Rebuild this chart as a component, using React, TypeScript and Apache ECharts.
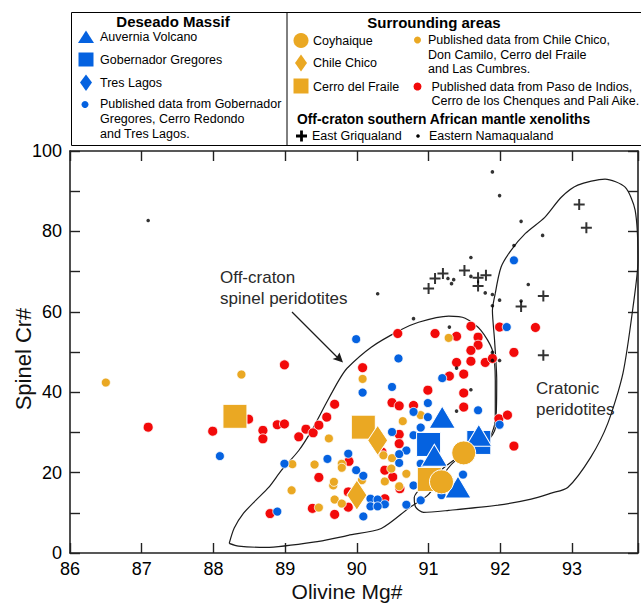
import React, { useEffect, useRef } from "react";
import * as echarts from "echarts";

const FONT = "'Liberation Sans', Arial, Helvetica, sans-serif";
const BLUE = "#0562E0";
const ORANGE = "#EAA823";
const RED = "#F20A0A";
const INK = "#1c1c1c";

// Axis ranges
const X_MIN = 86;
const X_MAX = 93.92;
const Y_MIN = 0;
const Y_MAX = 100;

// Field outlines (Olivine Mg#, Spinel Cr#)
const offCratonField: number[][] = [
  [88.22, 2.4], [88.35, 1.7], [88.73, 1.4], [89.47, 2.9], [89.88, 4.4], [90.34, 6.1],
  [90.72, 11.1], [91.0, 14.6], [91.35, 22.6], [91.69, 25.0], [91.86, 29.0], [91.93, 33.0],
  [91.93, 43.0], [91.89, 50.4], [91.73, 55.4], [91.51, 58.4], [91.28, 58.9], [90.86, 57.4],
  [90.58, 55.2], [90.2, 51.2], [89.86, 45.9], [89.75, 43.0], [89.57, 37.2], [89.37, 30.5],
  [89.19, 25.5], [88.95, 20.6], [88.77, 16.3], [88.59, 13.1], [88.42, 9.9], [88.29, 6.2],
  [88.22, 2.4],
];
const cratonicField: number[][] = [
  [91.93, 64.6], [92.01, 71.1], [92.15, 75.3], [92.35, 79.5], [92.62, 83.5], [92.85, 88.5],
  [93.08, 91.5], [93.46, 93.0], [93.74, 91.0], [93.88, 85.3], [93.92, 72.8], [93.85, 61.1],
  [93.71, 44.7], [93.5, 32.3], [93.26, 23.8], [92.94, 16.3], [92.71, 14.9], [92.43, 13.4],
  [91.97, 11.9], [91.28, 10.6], [90.93, 10.1], [90.82, 11.4], [90.8, 13.8], [90.93, 16.8],
  [91.35, 23.1], [91.83, 28.1], [91.93, 31.0], [91.95, 43.0], [91.92, 52.9], [91.89, 60.3],
  [91.93, 64.6],
];

// Deseado Massif
const auverniaVolcano: number[][] = [[91.19, 33.8], [91.7, 29.3], [91.08, 24.3], [91.41, 16.4]];
const gobernadorGregores: number[][] = [[91.0, 27.0], [91.7, 27.5]];
const tresLagos: number[][] = [];
const publishedDeseado: number[][] = [
  [88.09, 24.1], [88.99, 22.2], [88.89, 10.3], [89.99, 53.2], [90.08, 39.9], [90.49, 41.3],
  [90.58, 48.4], [92.09, 56.2], [92.19, 72.8], [91.19, 43.5], [90.99, 37.3], [91.69, 35.5],
  [91.99, 31.9], [90.79, 35.1], [90.99, 33.8], [90.49, 30.1], [90.79, 29.3], [90.89, 31.2],
  [90.69, 25.5], [90.59, 24.6], [90.59, 22.4], [90.89, 22.2], [89.59, 23.4], [89.88, 24.7],
  [89.99, 20.6], [90.09, 19.2], [90.19, 13.5], [90.29, 13.3], [90.39, 12.1], [90.19, 11.6],
  [90.29, 11.6], [90.09, 9.1], [90.69, 12.0], [90.89, 13.1], [91.48, 19.5], [90.79, 16.8],
  [91.18, 14.4],
];

// Surrounding areas
const coyhaique: number[][] = [[91.49, 24.9], [91.18, 17.7]];
const chileChico: number[][] = [[90.29, 28.0], [90.0, 14.4]];
const cerroDelFraile: number[][] = [[88.3, 34.0], [90.09, 31.3], [91.01, 18.3]];
const publishedChileChico: number[][] = [
  [86.5, 42.4], [88.39, 44.4], [89.1, 22.1], [89.41, 22.0], [89.09, 15.6], [89.47, 11.3],
  [90.08, 43.3], [89.61, 28.5], [89.79, 22.2], [89.79, 21.2], [89.67, 16.8], [89.68, 17.7],
  [91.28, 53.5], [90.89, 34.3], [90.64, 32.8], [90.37, 24.3], [90.49, 23.6], [90.29, 26.5],
  [90.48, 21.0], [90.69, 19.7], [90.39, 17.8], [90.07, 18.1], [89.69, 13.3], [89.79, 12.3],
  [90.59, 16.6],
];
const publishedPasoDeIndios: number[][] = [
  [87.09, 31.3], [87.99, 30.3], [88.49, 33.3], [88.99, 46.8], [88.69, 30.5], [88.69, 28.4],
  [88.89, 31.9], [88.99, 32.1], [89.19, 28.9], [89.29, 30.8], [89.39, 29.9], [89.47, 31.8],
  [89.47, 18.8], [88.79, 9.8], [89.38, 11.1], [90.08, 46.1], [90.49, 37.4], [89.69, 37.0],
  [89.58, 33.8], [89.89, 22.8], [90.57, 54.6], [91.09, 54.6], [91.39, 53.9], [91.59, 56.4],
  [91.69, 53.7], [91.69, 51.7], [91.59, 50.4], [91.99, 56.2], [92.19, 49.9], [91.59, 47.7],
  [91.79, 47.4], [91.89, 48.4], [91.39, 47.4], [91.49, 44.5], [91.29, 44.0], [90.99, 40.5],
  [91.49, 39.8], [90.59, 36.6], [90.79, 36.7], [91.49, 36.3], [92.49, 56.1], [91.98, 33.4],
  [92.1, 34.3], [92.19, 26.6], [90.59, 29.5], [90.59, 27.2], [90.39, 20.6], [90.5, 18.9],
  [89.88, 15.2], [90.39, 13.5], [89.88, 11.4], [89.69, 9.6], [90.35, 25.1], [90.6, 16.0],
];

// Off-craton southern African mantle xenoliths
const eastGriqualand: number[][] = [
  [91.0, 65.8], [91.09, 68.3], [91.2, 69.5], [91.5, 70.3], [91.69, 68.5], [91.8, 69.1],
  [91.69, 66.4], [93.1, 86.7], [93.2, 80.9], [92.6, 63.9], [92.29, 61.3], [92.6, 49.2],
];
const easternNamaqualand: number[][] = [
  [87.09, 82.7], [91.89, 94.8], [91.99, 88.9], [92.29, 82.5], [92.59, 79.0], [92.19, 76.5],
  [91.59, 73.5], [91.59, 68.8], [91.27, 68.3], [91.35, 68.0], [91.32, 67.0], [92.39, 66.8],
  [91.79, 64.7], [91.89, 64.3], [91.99, 62.9], [91.89, 61.5], [92.29, 62.7], [90.29, 64.5],
  [90.79, 58.3], [91.29, 56.2], [91.39, 46.0], [91.59, 40.6], [91.39, 35.3], [91.89, 49.9],
  [91.89, 47.9], [91.99, 47.9],
];

const CROSS = "path://M4.5,0H6.5V4.5H11V6.5H6.5V11H4.5V6.5H0V4.5H4.5Z";

const isInt = (v: number) => Math.abs(v - Math.round(v)) < 1e-6;

function txt(x: number, y: number, text: string, extra: any = {}) {
  return {
    type: "text",
    x,
    y,
    z: 100,
    style: {
      text,
      fill: "#000",
      fontFamily: FONT,
      fontSize: 12.5,
      verticalAlign: "middle",
      align: "left",
      ...extra,
    },
  };
}

function crossPoly(cx: number, cy: number, s: number, t: number) {
  const a = s / 2;
  const b = t / 2;
  return [
    [cx - b, cy - a], [cx + b, cy - a], [cx + b, cy - b], [cx + a, cy - b], [cx + a, cy + b],
    [cx + b, cy + b], [cx + b, cy + a], [cx - b, cy + a], [cx - b, cy + b], [cx - a, cy + b],
    [cx - a, cy - b], [cx - b, cy - b],
  ];
}

function buildLegend(): any[] {
  const g: any[] = [];
  g.push({ type: "rect", z: 100, shape: { x: 71.5, y: 12.5, width: 620, height: 133 }, style: { fill: "#fff", stroke: "#000", lineWidth: 1 } });
  g.push({ type: "line", z: 100, shape: { x1: 287, y1: 12.5, x2: 287, y2: 145.5 }, style: { stroke: "#000", lineWidth: 1 } });
  // Deseado Massif
  g.push(txt(173, 21.5, "Deseado Massif", { fontWeight: "bold", fontSize: 15, align: "center" }));
  g.push({ type: "polygon", z: 100, shape: { points: [[86, 30.5], [94, 43], [78, 43]] }, style: { fill: BLUE } });
  g.push(txt(100, 36.5, "Auvernia Volcano"));
  g.push({ type: "rect", z: 100, shape: { x: 78.5, y: 52.5, width: 15, height: 14 }, style: { fill: BLUE } });
  g.push(txt(100, 59.5, "Gobernador Gregores"));
  g.push({ type: "polygon", z: 100, shape: { points: [[86, 74.5], [92, 82.5], [86, 91], [80, 82.5]] }, style: { fill: BLUE } });
  g.push(txt(100, 82.5, "Tres Lagos"));
  g.push({ type: "circle", z: 100, shape: { cx: 85, cy: 104.5, r: 3.5 }, style: { fill: BLUE } });
  g.push(txt(100, 104, "Published data from Gobernador"));
  g.push(txt(100, 118.5, "Gregores, Cerro Redondo"));
  g.push(txt(100, 134, "and Tres Lagos."));
  // Surrounding areas
  g.push(txt(434, 22.5, "Surrounding areas", { fontWeight: "bold", fontSize: 15, align: "center" }));
  g.push({ type: "circle", z: 100, shape: { cx: 301, cy: 40.5, r: 7.5 }, style: { fill: ORANGE } });
  g.push(txt(313, 41, "Coyhaique"));
  g.push({ type: "polygon", z: 100, shape: { points: [[301, 54.5], [307, 63], [301, 71.5], [295, 63]] }, style: { fill: ORANGE } });
  g.push(txt(313, 63, "Chile Chico"));
  g.push({ type: "rect", z: 100, shape: { x: 293.5, y: 78.5, width: 15, height: 15 }, style: { fill: ORANGE } });
  g.push(txt(313, 86.5, "Cerro del Fraile"));
  g.push({ type: "circle", z: 100, shape: { cx: 417.5, cy: 40, r: 3.5 }, style: { fill: ORANGE } });
  g.push(txt(428, 40, "Published data from Chile Chico,"));
  g.push(txt(428, 54.5, "Don Camilo, Cerro del Fraile"));
  g.push(txt(428, 69, "and Las Cumbres."));
  g.push({ type: "circle", z: 100, shape: { cx: 417.5, cy: 86.5, r: 4 }, style: { fill: RED } });
  g.push(txt(431.5, 86.5, "Published data from Paso de Indios,"));
  g.push(txt(431.5, 101, "Cerro de los Chenques and Pali Aike."));
  g.push(txt(297, 119.5, "Off-craton southern African mantle xenoliths", { fontWeight: "bold", fontSize: 13.8 }));
  g.push({ type: "polygon", z: 100, shape: { points: crossPoly(301.5, 136, 11, 2.8) }, style: { fill: "#000" } });
  g.push(txt(312, 136, "East Griqualand"));
  g.push({ type: "circle", z: 100, shape: { cx: 418, cy: 136, r: 1.8 }, style: { fill: "#000" } });
  g.push(txt(429, 136, "Eastern Namaqualand"));
  return g;
}

function buildAnnotations(): any[] {
  const g: any[] = [];
  g.push(txt(220, 277.5, "Off-craton", { fontSize: 17, fill: "#2a2a2a" }));
  g.push(txt(220, 298.5, "spinel peridotites", { fontSize: 17, fill: "#2a2a2a" }));
  g.push({ type: "line", z: 90, shape: { x1: 292, y1: 312, x2: 339, y2: 359 }, style: { stroke: INK, lineWidth: 1.2 } });
  g.push({ type: "polygon", z: 90, shape: { points: [[343, 362.5], [332.5, 359], [336.5, 357.5], [339.5, 352.5]] }, style: { fill: INK } });
  g.push(txt(536, 388, "Cratonic", { fontSize: 17, fill: "#2a2a2a" }));
  g.push(txt(536, 409, "peridotites", { fontSize: 17, fill: "#2a2a2a" }));
  g.push(txt(23, 359, "Spinel Cr#", { fontSize: 22, align: "center", fill: "#111" }));
  g[g.length - 1].rotation = Math.PI / 2;
  g.push(txt(347, 591, "Olivine Mg#", { fontSize: 21, align: "center", fill: "#111" }));
  return g;
}

const axisLineStyle = { color: "#222", width: 1.6 };

export default function App() {
  const ref = useRef<HTMLDivElement>(null);
  useEffect(() => {
    if (!ref.current) return;
    const chart = echarts.init(ref.current, undefined, { renderer: "svg" });
    const fieldLine = (data: number[][]) => ({
      type: "line",
      data,
      smooth: 0.25,
      symbol: "none",
      silent: true,
      clip: false,
      lineStyle: { color: INK, width: 1.2 },
      z: 1,
    });
    const dots = (data: number[][], color: string, size = 9.5) => ({
      type: "scatter",
      data,
      symbol: "circle",
      symbolSize: size,
      itemStyle: { color, borderColor: "#fff", borderWidth: 0.8, opacity: 1 },
      z: 2,
    });
    const big = (data: number[][], color: string, symbol: string, size: any) => ({
      type: "scatter",
      data,
      symbol,
      symbolSize: size,
      itemStyle: { color, borderColor: "#fff", borderWidth: 1, opacity: 1 },
      z: 3,
    });
    chart.setOption({
      animation: false,
      backgroundColor: "#fff",
      grid: { left: 70, top: 151, width: 570, height: 402, containLabel: false },
      xAxis: [
        {
          type: "value",
          position: "bottom",
          min: X_MIN,
          max: X_MAX,
          interval: 1,
          splitLine: { show: false },
          axisLine: { show: true, onZero: false, lineStyle: axisLineStyle },
          axisTick: { show: true, inside: true, length: 10, lineStyle: { color: "#222", width: 1.4 } },
          axisLabel: {
            show: true,
            margin: 7,
            color: "#000",
            fontSize: 18,
            fontFamily: FONT,
            formatter: (v: number) => (isInt(v) ? String(Math.round(v)) : ""),
          },
        },
        {
          type: "value",
          position: "top",
          min: X_MIN,
          max: X_MAX,
          interval: 1,
          splitLine: { show: false },
          axisLine: { show: true, onZero: false, lineStyle: axisLineStyle },
          axisTick: { show: true, inside: true, length: 10, lineStyle: { color: "#222", width: 1.4 } },
          axisLabel: { show: false },
        },
      ],
      yAxis: [
        {
          type: "value",
          position: "left",
          min: Y_MIN,
          max: Y_MAX,
          interval: 10,
          splitLine: { show: false },
          axisLine: { show: true, onZero: false, lineStyle: axisLineStyle },
          axisTick: { show: true, inside: true, length: 10, lineStyle: { color: "#222", width: 1.4 } },
          axisLabel: {
            show: true,
            margin: 8,
            color: "#000",
            fontSize: 18,
            fontFamily: FONT,
            formatter: (v: number) => (Math.round(v) % 20 === 0 ? String(Math.round(v)) : ""),
          },
        },
        {
          type: "value",
          position: "right",
          min: Y_MIN,
          max: Y_MAX,
          interval: 10,
          splitLine: { show: false },
          axisLine: { show: true, onZero: false, lineStyle: axisLineStyle },
          axisTick: { show: true, inside: true, length: 10, lineStyle: { color: "#222", width: 1.4 } },
          axisLabel: { show: false },
        },
      ],
      series: [
        fieldLine(offCratonField),
        fieldLine(cratonicField),
        dots(publishedPasoDeIndios, RED, 10),
        dots(publishedChileChico, ORANGE, 9),
        dots(publishedDeseado, BLUE, 9),
        big(cerroDelFraile, ORANGE, "rect", 24),
        big(gobernadorGregores, BLUE, "rect", 24),
        big(auverniaVolcano, BLUE, "triangle", [26, 22]),
        big(tresLagos, BLUE, "diamond", [20, 30]),
        big(coyhaique, ORANGE, "circle", 24),
        big(chileChico, ORANGE, "diamond", [20, 30]),
        {
          type: "scatter",
          data: easternNamaqualand,
          symbol: "circle",
          symbolSize: 3.6,
          itemStyle: { color: "#000" },
          z: 4,
        },
        {
          type: "scatter",
          data: eastGriqualand,
          symbol: CROSS,
          symbolSize: 11,
          itemStyle: { color: "#000" },
          z: 4,
        },
      ],
      graphic: [...buildLegend(), ...buildAnnotations()],
    });
    return () => chart.dispose();
  }, []);
  return (
    <div
      ref={ref}
      style={{ position: "absolute", left: 0, top: 0, width: 641, height: 603, background: "#fff" }}
    />
  );
}
